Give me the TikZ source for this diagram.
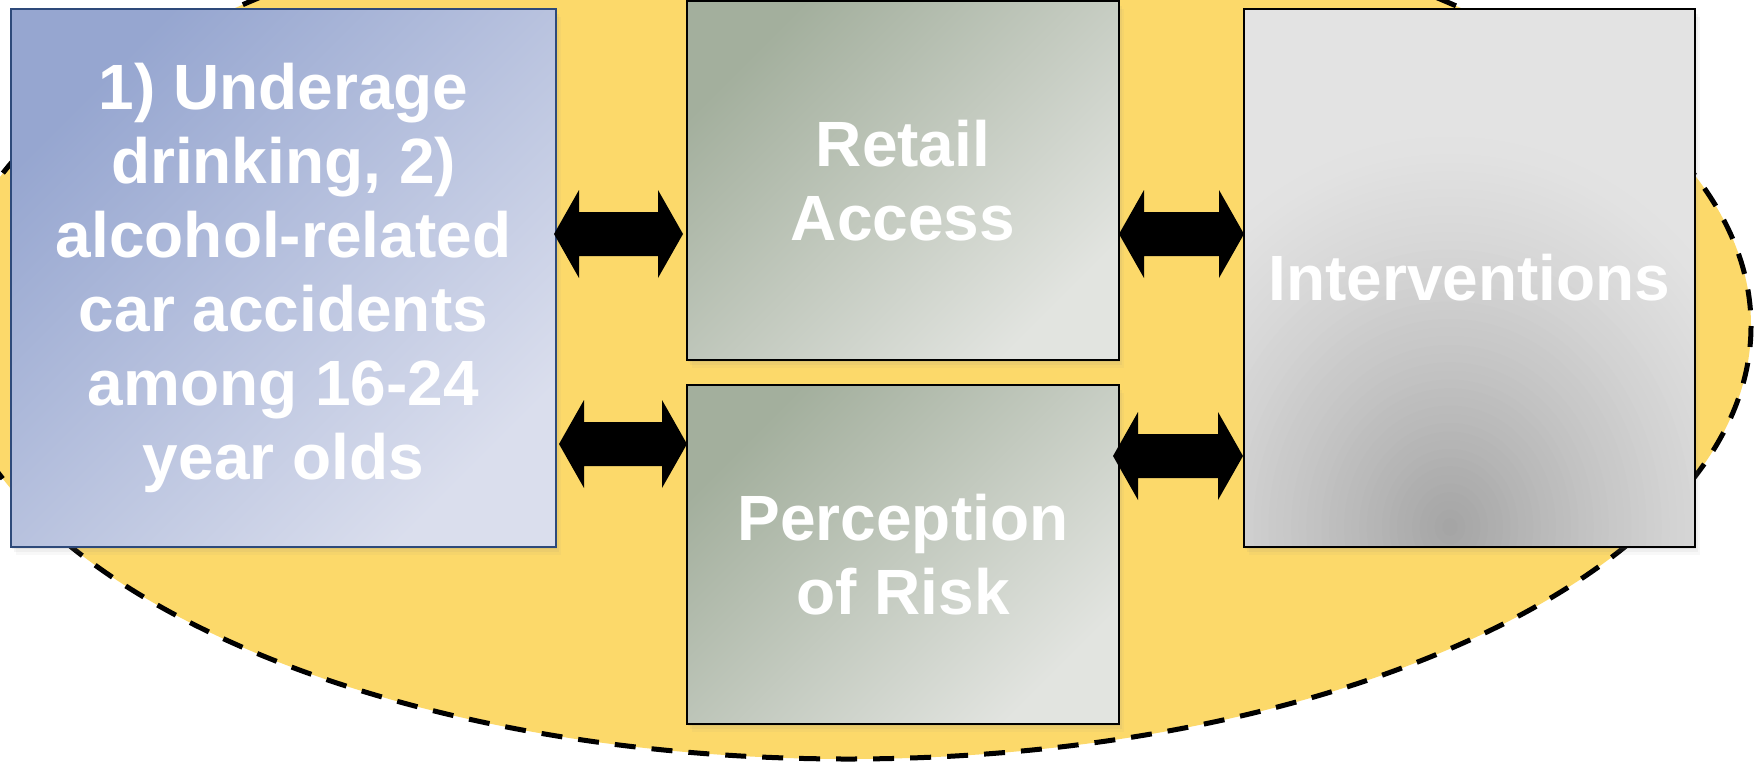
\documentclass[tikz,border=0pt]{standalone}
\usepackage{fontspec}
\setmainfont{Liberation Sans}
\usetikzlibrary{calc,shadows}
\definecolor{ellfill}{RGB}{252,217,106}
\definecolor{ldark}{RGB}{150,166,208}
\definecolor{llight}{RGB}{218,222,237}
\definecolor{lborder}{RGB}{46,74,122}
\definecolor{mdark}{RGB}{163,175,157}
\definecolor{mlight}{RGB}{226,228,224}
\definecolor{ivdark}{RGB}{165,165,165}
\definecolor{ivlight}{RGB}{227,227,227}
\newcommand\dblarr[2]{%
  \fill[arrowfill] (#1) -- ($(#1)+(25,-44)$) -- ($(#1)+(25,-22)$) -- ($(#2)+(-25,-22)$) -- ($(#2)+(-25,-44)$) -- (#2)
   -- ($(#2)+(-25,44)$) -- ($(#2)+(-25,22)$) -- ($(#1)+(25,22)$) -- ($(#1)+(25,44)$) -- cycle;}
\begin{document}
\begin{tikzpicture}[x=1pt,y=-1pt,
  box/.style={rectangle, inner sep=0pt, outer sep=0pt, line width=2pt, text=white, align=center,
    font=\fontsize{64}{74}\selectfont\bfseries,
    drop shadow={shadow xshift=1pt, shadow yshift=-2pt, opacity=0.12},
    drop shadow={shadow xshift=3pt, shadow yshift=-5pt, opacity=0.08},
    drop shadow={shadow xshift=5pt, shadow yshift=-8pt, opacity=0.05}},
  leftbox/.style={box, draw=lborder, top color=ldark, bottom color=llight, shading angle=45},
  midbox/.style={box, draw=black, top color=mdark, bottom color=mlight, shading angle=45},
  ivbox/.style={box, draw=black, fill=ivlight},
  boundary/.style={fill=ellfill, draw=black, line width=5pt, dash pattern=on 21pt off 16pt},
  arrowfill/.style={fill=black}]
\useasboundingbox (0,0) rectangle (1760,761);
\clip (0,0) rectangle (1760,761);
\fill[white] (0,0) rectangle (1760,761);
\draw[boundary] (848,326) ellipse [x radius=903, y radius=433];

\node[leftbox, minimum width=545pt, minimum height=538pt] (L) at (283.5,278)
  {1) Underage\\drinking, 2)\\alcohol-related\\car accidents\\among 16-24\\year olds};
\node[midbox, minimum width=432pt, minimum height=359pt] (R) at (903,180.5) {Retail\\Access};
\node[midbox, minimum width=432pt, minimum height=339pt] (P) at (903,554.5) {Perception\\of Risk};
\node[ivbox, minimum width=451pt, minimum height=538pt,
  path picture={
    \coordinate (ivc) at ($(path picture bounding box.south)+(-19.5,-20)$);
    \foreach \i in {1,...,45}{
      \pgfmathsetmacro\pc{100*(\i/45)^1.3}
      \pgfmathsetmacro\fr{1-(\i-1)/45}
      \fill[ivdark!\pc!ivlight] (ivc) ellipse [x radius=340*\fr, y radius=390*\fr];
    }}]
  (I) at (1469.5,278) {Interventions};

\coordinate (a1s) at ($(L.east)+(-2,-44)$);
\coordinate (a1e) at ($(R.west)+(-4,53.5)$);
\coordinate (a2s) at ($(L.east)+(3,166)$);
\coordinate (a2e) at ($(P.west)+(0,-110.5)$);
\coordinate (a3s) at ($(R.east)+(0,53.5)$);
\coordinate (a3e) at ($(I.west)+(0,-44)$);
\coordinate (a4s) at ($(P.east)+(-6,-98.5)$);
\coordinate (a4e) at ($(I.west)+(-1,178)$);
\dblarr{a1s}{a1e}
\dblarr{a2s}{a2e}
\dblarr{a3s}{a3e}
\dblarr{a4s}{a4e}
\end{tikzpicture}
\end{document}
